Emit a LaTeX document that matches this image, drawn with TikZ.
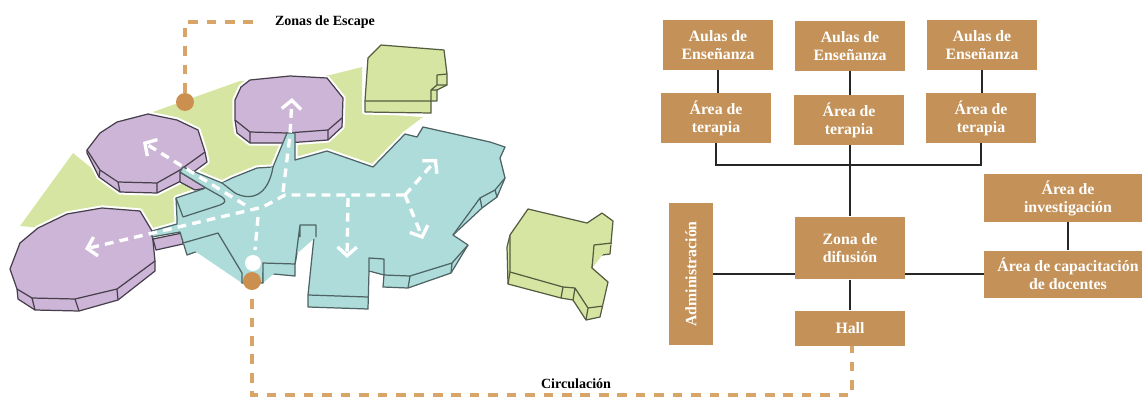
\documentclass[tikz,border=0pt]{standalone}
\usepackage{fontspec}
\setmainfont{Liberation Serif}
\usetikzlibrary{arrows.meta}
\definecolor{boxc}{HTML}{C49259}
\definecolor{dotc}{HTML}{CB9050}
\definecolor{dashc}{HTML}{D9A468}
\definecolor{purplec}{HTML}{CDB5D8}
\definecolor{tealc}{HTML}{AEDCDB}
\definecolor{greenc}{HTML}{D6E6A2}
\tikzstyle{box}=[rectangle,fill=boxc,text=white,inner sep=0pt,align=center,font=\fontsize{9}{10.2}\selectfont\bfseries]
\tikzstyle{annot}=[inner sep=0pt,font=\fontsize{8}{9}\selectfont\bfseries]
\tikzstyle{dot}=[circle,fill=dotc,minimum size=0.36cm,inner sep=0pt]
\tikzstyle{tie}=[draw=black!85,line width=1.1pt]
\tikzstyle{walk}=[draw=dashc,line width=2pt,dash pattern=on 5.5pt off 5pt]
\tikzstyle{flow}=[draw=white,line width=1.9pt,dash pattern=on 5pt off 3.5pt,-{Straight Barb[length=5pt,width=11pt]}]
\tikzstyle{halo}=[draw=white,line width=3pt,line join=round]
\tikzstyle{disc}=[fill=purplec,draw=black!65!purplec,line width=0.7pt,line join=round]
\tikzstyle{hall}=[fill=tealc,draw=black!55!tealc,line width=0.7pt,line join=round]
\tikzstyle{block}=[fill=greenc,draw=black!60!greenc,line width=0.7pt,line join=round]
\newcommand{\tealpath}[0]{(176,198) -- (206,188) -- (180,172) -- (183,167) -- (222,183) -- (232,178) -- (257,168) -- (273,167) -- (287,133) -- (295,133) -- (295,160) -- (327,151) -- (373,167) -- (405,134) -- (417,137) -- (423,127) -- (490,142) -- (505,147) -- (500,158) -- (505,178) -- (497,197) -- (482,208) -- (453,235) -- (468,245) -- (451,273) -- (408,288) -- (383,287) -- (384,275) -- (369,271) -- (368,309) -- (308,307) -- (308,295) -- (314,237) -- (300,237) -- (295,264) -- (295,276) -- (263,273) -- (263,283) -- (242,283) -- (218,244) -- (187,255) -- (180,232) -- (152,237) -- (152,231) -- (177,224) -- (177,218) -- cycle}
\newcommand{\drawdiscs}[0]
{
  \draw[disc,preaction={halo}] (235,100) -- (241,87) -- (250,80) -- (290,76) -- (327,78) -- (343,98) -- (342,127) -- (328,140) -- (287,143) -- (250,143) -- (237,133) -- (235,120) -- cycle;
  \draw[disc] (235,120) -- (250,132) -- (287,133) -- (328,130) -- (342,118) (250,132) -- (250,143) (328,130) -- (328,140);
  \draw[disc,preaction={halo}] (87,150) -- (100,133) -- (117,122) -- (148,114) -- (177,120) -- (198,130) -- (205,152) -- (207,162) -- (181,181) -- (157,193) -- (120,192) -- (99,177) -- (87,153) -- cycle;
  \draw[disc] (87,150) -- (100,170) -- (118,182) -- (157,183) -- (180,170) -- (205,152) (100,170) -- (99,177) (118,182) -- (120,192) (157,183) -- (157,193);
  \draw[disc,preaction={halo}] (10,269) -- (20,243) -- (38,228) -- (67,214) -- (102,208) -- (140,211) -- (152,231) -- (155,261) -- (155,271) -- (118,300) -- (79,311) -- (35,310) -- (18,299) -- (17,289) -- cycle;
  \draw[disc] (17,289) -- (32,298) -- (75,299) -- (117,289) -- (155,261) (32,298) -- (35,310) (75,299) -- (79,311) (117,289) -- (118,300);
  \draw[disc] (153,239) -- (182,233) -- (183,244) -- (156,250) -- cycle;
  \draw[disc] (180,172) -- (180,182) -- (195,190) -- (206,188) -- cycle;
}
\newcommand{\drawblocks}[0]
{
  \draw[block,preaction={halo}] (368,58) -- (381,45) -- (444,50) -- (447,74) -- (447,85) -- (437,90) -- (437,101) -- (431,101) -- (431,113) -- (365,112) -- (365,101) -- cycle;
  \draw[block] (365,101) -- (431,101) -- (431,90) -- (437,85) -- (437,75) -- (447,74) (431,90) -- (437,90) (437,85) -- (447,85);
  \draw[block,preaction={halo}] (528,209) -- (587,223) -- (602,213) -- (613,221) -- (610,254) -- (594,256) -- (592,268) -- (608,282) -- (600,317) -- (586,320) -- (573,300) -- (561,298) -- (508,284) -- (507,247) -- (510,235) -- cycle;
  \draw[block] (510,235) -- (510,272) -- (563,287) -- (575,288) -- (588,308) -- (603,306) (563,287) -- (561,298) (575,288) -- (573,300) (588,308) -- (586,320) (612,243) -- (594,245) -- (592,268) (510,272) -- (508,284);
}
\begin{document}
\begin{tikzpicture}[x=0.02cm,y=-0.02cm]
	\useasboundingbox (0,0) rectangle (1142,396);
	\clip (0,0) rectangle (1142,396);

	\fill[greenc] (150,113) -- (240,81) -- (330,75) -- (362,67) -- (362,113) -- (423,117) -- (403,132) -- (373,167) -- (250,170) -- (180,240) -- (20,226) -- (73,153) -- (100,175) -- (150,140) -- cycle;
	\draw[halo] \tealpath;
	\drawdiscs{}
	\drawblocks{}

	\draw[hall] \tealpath;
	\draw[hall] (222,183) -- (235,193) .. controls (250,201) and (268,197) .. (273,167);
	\draw[hall] (206,188) -- (222,197) .. controls (226,200) and (226,203) .. (220,205) -- (183,217) (176,198) -- (183,217);
	\draw[hall] (183,243) -- (218,233) -- (242,273) -- (242,283) (263,283) -- (263,263) -- (295,264) -- (300,225) -- (316,225) -- (316,237) (300,225) -- (300,237);
	\draw[hall] (308,295) -- (368,297) (369,271) -- (369,258) -- (384,259) -- (384,275) -- (410,276) -- (452,263) -- (468,245) (410,276) -- (408,288) (452,263) -- (451,273);
	\draw[hall] (453,235) -- (480,198) -- (495,190) -- (505,178) (480,198) -- (482,208) (495,190) -- (497,197);

	\draw[flow] (405,195) -- (285,195) -- (263,207) -- (85,249);
	\draw[flow] (245,205) -- (143,142);
	\draw[flow] (283,192) -- (290,135) -- (292,98);
	\draw[flow,-] (258,217) -- (255,250);
	\draw[flow] (348,198) -- (347,258);
	\draw[flow] (405,195) -- (437,159);
	\draw[flow] (405,195) -- (423,239);

	\node[circle,fill=white,minimum size=0.32cm,inner sep=0pt](entry) at (253,263){};
	\node[dot](exit) at (252,281){};
	\node[dot](escape) at (185,102){};

	\node[annot](zonas) at (325,22){Zonas de Escape};
	\node[annot](circ) at (576,384){Circulación};

	\node[box, minimum width=2.2cm, minimum height=1cm](aula1) at (718,45){Aulas de\\Enseñanza};
	\node[box, minimum width=2.2cm, minimum height=1cm](aula2) at (850,46){Aulas de\\Enseñanza};
	\node[box, minimum width=2.2cm, minimum height=1cm](aula3) at (982,45){Aulas de\\Enseñanza};
	\node[box, minimum width=2.2cm, minimum height=1cm](terapia1) at (716,118){Área de\\terapia};
	\node[box, minimum width=2.2cm, minimum height=1cm](terapia2) at (849,120){Área de\\terapia};
	\node[box, minimum width=2.2cm, minimum height=1cm](terapia3) at (981,118){Área de\\terapia};
	\node[box, minimum width=2.2cm, minimum height=1.26cm](zona) at (850,248){Zona de\\difusión};
	\node[box, minimum width=2.2cm, minimum height=0.7cm](hallbox) at (850,328){Hall};
	\node[box, minimum width=0.88cm, minimum height=2.86cm](admin) at (691,274){\rotatebox{90}{Administración}};
	\node[box, minimum width=3.36cm, minimum height=0.96cm](invest) at (1068,198){Área de\\investigación};
	\node[box, minimum width=3.36cm, minimum height=0.94cm](capac) at (1068,274){Área de capacitación\\de docentes};

	\coordinate (tree) at (850,165);
	\coordinate (corner) at (852,395);

	\draw[tie] (aula1.south) -- (aula1.south |- terapia1.north);
	\draw[tie] (aula2.south) -- (aula2.south |- terapia2.north);
	\draw[tie] (aula3.south) -- (aula3.south |- terapia3.north);
	\draw[tie] (terapia1.south) |- (tree);
	\draw[tie] (terapia3.south) |- (tree);
	\draw[tie] (terapia2.south -| zona) -- (zona.north);
	\draw[tie] (zona.south) -- (hallbox.north);
	\draw[tie] (admin.east |- capac) -- (zona.west |- capac);
	\draw[tie] (zona.east |- capac) -- (capac.west);
	\draw[tie] (invest.south) -- (capac.north);

	\draw[walk, shorten >=12pt] (escape.north) |- (zonas.west);
	\draw[walk, shorten <=5pt] (exit.south) |- (corner) -- (corner |- hallbox.south);
\end{tikzpicture}
\end{document}
